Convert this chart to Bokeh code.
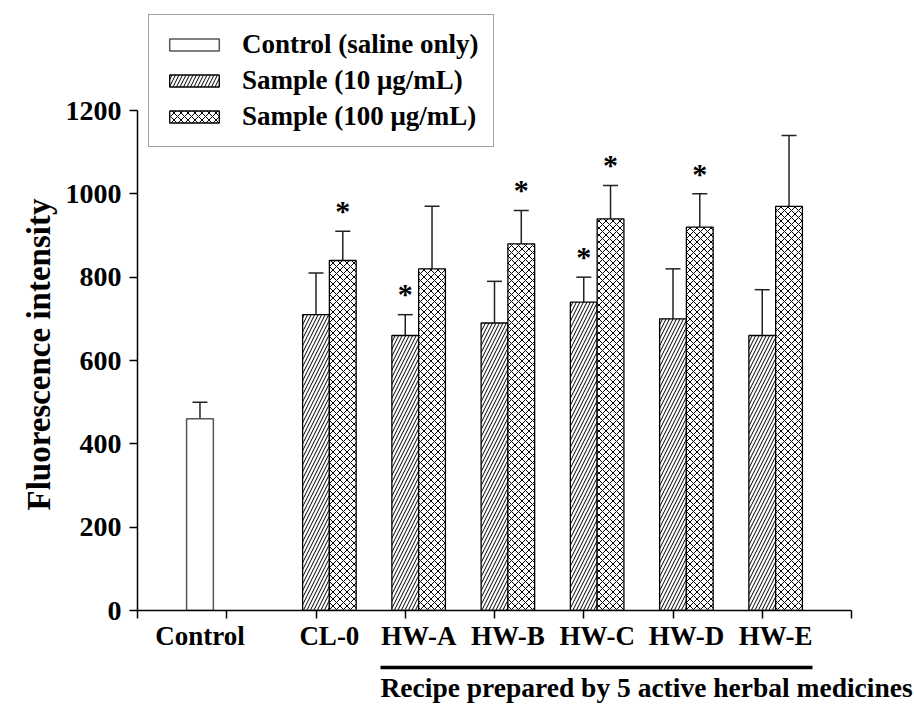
import numpy as np
from bokeh.plotting import figure
from bokeh.models import (Range1d, FixedTicker, Whisker, TeeHead, ColumnDataSource,
                          Legend, LegendItem, LinearAxis, Title)
from bokeh.embed import file_html
from bokeh.resources import INLINE
from bokeh.core.properties import value

# ---------------- data ----------------
categories = ["Control", "CL-0", "HW-A", "HW-B", "HW-C", "HW-D", "HW-E"]
control_mean = [460]
control_err = [40]
sample10_mean = [710, 660, 690, 740, 700, 660]
sample10_err = [100, 50, 100, 60, 120, 110]
sample100_mean = [840, 820, 880, 940, 920, 970]
sample100_err = [70, 150, 80, 80, 80, 170]
sig10 = [False, True, False, True, False, False]
sig100 = [True, False, True, True, True, False]
y_ticks = [0, 200, 400, 600, 800, 1000, 1200]
legend_labels = ["Control (saline only)", "Sample (10 \u03bcg/mL)", "Sample (100 \u03bcg/mL)"]
x_title = "Recipe prepared by 5 active herbal medicines"
y_title = "Fluorescence intensity"

FONT = "Liberation Serif"
BW = 0.3

group_pos = np.arange(1, len(categories) + 1, dtype=float)
x_ctrl = group_pos[:1] - BW
x10 = group_pos[1:]
x100 = group_pos[1:] + BW

src_c = ColumnDataSource(dict(x=x_ctrl, top=control_mean,
                              upper=np.array(control_mean) + np.array(control_err)))
src_10 = ColumnDataSource(dict(x=x10, top=sample10_mean,
                               upper=np.array(sample10_mean) + np.array(sample10_err)))
src_100 = ColumnDataSource(dict(x=x100, top=sample100_mean,
                                upper=np.array(sample100_mean) + np.array(sample100_err)))

y_top = 1200 * (610 - 3) / 500.0

p = figure(width=914, height=711, output_backend="svg", toolbar_location=None,
           x_range=Range1d(0, 8), y_range=Range1d(0, y_top),
           min_border_left=137, min_border_right=63, min_border_top=3, min_border_bottom=101)
p.xgrid.visible = False
p.ygrid.visible = False
p.outline_line_color = None
p.background_fill_color = "white"
p.border_fill_color = "white"

# x axis: minor ticks at group boundaries, category names as (tick-less) major labels
label_x = [round(float(v), 3) for v in [x_ctrl[0]] + list(x10 + BW / 2)]
xa = p.xaxis[0]
xa.ticker = FixedTicker(ticks=label_x, minor_ticks=list(range(9)))
xa.bounds = (0, 8)
xa.major_label_overrides = {v: name for v, name in zip(label_x, categories)}
xa.major_tick_line_color = None
xa.major_tick_out = 0
xa.major_tick_in = 0
xa.minor_tick_out = 8
xa.minor_tick_in = 0
xa.minor_tick_line_color = "black"
xa.minor_tick_line_width = 1.5
xa.axis_line_width = 1.5
xa.axis_line_color = "black"
xa.major_label_text_font = FONT
xa.major_label_text_font_style = "bold"
xa.major_label_text_font_size = "27px"
xa.major_label_text_color = "black"
xa.major_label_standoff = 2
xa.axis_label = "\u00a0"
xa.axis_label_text_font_size = "10px"
xa.axis_label_standoff = 0

# underline under the five herbal recipes
ul = LinearAxis(ticker=FixedTicker(ticks=[]), bounds=(2.72, 7.56),
                axis_line_width=3.5, axis_line_color="black",
                major_tick_line_color=None, minor_tick_line_color=None,
                major_label_text_font_size="1px", major_label_standoff=0,
                major_tick_out=0, minor_tick_out=0)
p.add_layout(ul, "below")

# x title
p.add_layout(Title(text=x_title, align="left", offset=243, standoff=4,
                   text_font=FONT, text_font_style="bold", text_font_size="27.5px",
                   text_color="black"), "below")

ya = p.yaxis[0]
ya.ticker = FixedTicker(ticks=y_ticks)
ya.bounds = (0, 1200)
ya.major_tick_out = 8
ya.major_tick_in = 0
ya.minor_tick_line_color = None
ya.axis_line_width = 1.5
ya.major_tick_line_width = 1.5
ya.major_label_text_font = FONT
ya.major_label_text_font_style = "bold"
ya.major_label_text_font_size = "28px"
ya.major_label_text_color = "black"
ya.major_label_standoff = 8

# y title
p.add_layout(Title(text=y_title, align="left", offset=100, standoff=12,
                   text_font=FONT, text_font_style="bold", text_font_size="33px",
                   text_color="black"), "left")

# bars
r_c = p.vbar(x="x", top="top", bottom=0, width=BW, source=src_c,
             fill_color="white", line_color="#555555", line_width=1.5)
r_10 = p.vbar(x="x", top="top", bottom=0, width=BW, source=src_10,
              fill_color="white", line_color="black", line_width=1.3,
              hatch_pattern="/", hatch_scale=7, hatch_weight=1, hatch_color="black")
r_100 = p.vbar(x="x", top="top", bottom=0, width=BW, source=src_100,
               fill_color="white", line_color="black", line_width=1.3,
               hatch_pattern="x", hatch_scale=7, hatch_weight=1, hatch_color="black")

# error bars (upper only)
for s in (src_c, src_10, src_100):
    p.add_layout(Whisker(source=s, base="x", lower="top", upper="upper", dimension="height",
                         lower_head=None, line_color="#222222", line_width=1.5,
                         upper_head=TeeHead(size=15, line_color="#222222", line_width=1.5)))

# significance asterisks
ast_off = 50
ax = [x for x, s in zip(x10, sig10) if s] + [x for x, s in zip(x100, sig100) if s]
ay = ([u + ast_off for u, s in zip(src_10.data["upper"], sig10) if s] +
      [u + ast_off for u, s in zip(src_100.data["upper"], sig100) if s])
p.text(x=ax, y=ay, text=["*"] * len(ax), text_font=value(FONT), text_font_style="bold",
       text_font_size="30px", text_align="center", text_baseline="middle", text_color="black")

# legend
legend = Legend(items=[LegendItem(label=legend_labels[0], renderers=[r_c]),
                       LegendItem(label=legend_labels[1], renderers=[r_10]),
                       LegendItem(label=legend_labels[2], renderers=[r_100])],
                location="top_left", margin=11, padding=14, spacing=5,
                glyph_width=62, glyph_height=15, label_standoff=17,
                label_text_font=FONT, label_text_font_style="bold",
                label_text_font_size="27px", label_text_color="black",
                border_line_color="#444444", border_line_width=1.5,
                background_fill_color="white", background_fill_alpha=1.0)
p.add_layout(legend)

open("out.html", "w").write(file_html(p, INLINE))
